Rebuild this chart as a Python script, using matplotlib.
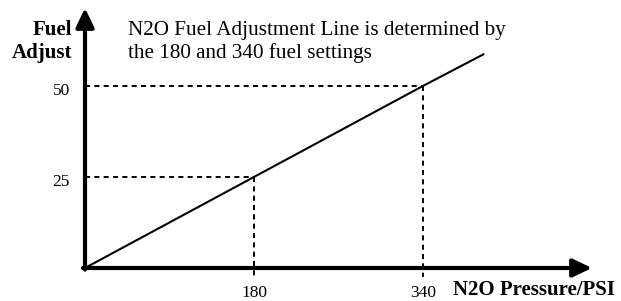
import numpy as np
import matplotlib
matplotlib.use("Agg")
import matplotlib.pyplot as plt
from matplotlib.transforms import ScaledTranslation

# Data
pressure = [0, 180, 340, 398]      # N2O pressure (PSI)
fuel = [0, 25, 50, 58.8]            # fuel adjust
set_pressure = [180, 340]
set_fuel = [25, 50]
x_ticklabels = ["180", "340"]
y_ticklabels = ["25", "50"]
title_lines = ["N2O Fuel Adjustment Line is determined by", "the 180 and 340 fuel settings"]

W, H = 621, 301
fig = plt.figure(figsize=(W / 100, H / 100), dpi=100)
plt.rcParams['font.family'] = ['Liberation Serif', 'DejaVu Serif']

# axes: origin at pixel (85,268), right edge 592, top 8
ax = fig.add_axes([85 / W, (H - 268) / H, (592 - 85) / W, (268 - 8) / H])

# schematic x-axis: 180 and 340 evenly spaced from origin
def fwd(x):
    x = np.asarray(x, dtype=float)
    return np.where(x < 180, x / 180.0, 1 + (x - 180) / 160.0)

def inv(p):
    p = np.asarray(p, dtype=float)
    return np.where(p < 1, p * 180.0, 180 + (p - 1) * 160.0)

ax.set_xscale('function', functions=(fwd, inv))
ax.set_xlim(0, 500)
ax.set_ylim(0, 71.4)
for s in ax.spines.values():
    s.set_visible(False)

ax.plot(pressure, fuel, color='black', lw=1.5, solid_capstyle='butt')
for xp, yf in zip(set_pressure, set_fuel):
    ax.plot([0, xp], [yf, yf], color='black', lw=1.4, linestyle=(0, (2.6, 2.2)))
    ax.plot([xp, xp], [yf, -2.5], color='black', lw=1.4, linestyle=(0, (2.6, 2.2)), clip_on=False)

# arrows
ap = dict(arrowstyle='-|>,head_length=1.15,head_width=0.55', color='black', lw=3,
          shrinkA=0, shrinkB=0, mutation_scale=10)
ax.annotate('', xy=(1, 0), xytext=(-0.004, 0), xycoords='axes fraction', arrowprops=ap, annotation_clip=False)
ax.annotate('', xy=(0, 1), xytext=(0, -0.006), xycoords='axes fraction', arrowprops=ap, annotation_clip=False)

ax.set_xticks(set_pressure)
ax.set_xticklabels(x_ticklabels)
ax.set_yticks(set_fuel)
ax.set_yticklabels(y_ticklabels)
ax.xaxis.set_minor_locator(matplotlib.ticker.NullLocator())
ax.tick_params(axis='both', length=0, labelsize=12.5)
ax.tick_params(axis='x', pad=12)
ax.tick_params(axis='y', pad=11)
shift = ScaledTranslation(0, -2 / 72, fig.dpi_scale_trans)
for lbl in ax.get_yticklabels():
    lbl.set_transform(lbl.get_transform() + shift)

# texts
fig.text(72 / W, (H - 30) / H, "Fuel", ha='right', va='center', fontsize=15, fontweight='bold')
fig.text(72 / W, (H - 53) / H, "Adjust", ha='right', va='center', fontsize=15, fontweight='bold')
fig.text(128 / W, (H - 30) / H, title_lines[0], ha='left', va='center', fontsize=15.2)
fig.text(128 / W, (H - 53) / H, title_lines[1], ha='left', va='center', fontsize=15.2)
fig.text(453 / W, (H - 290) / H, "N2O Pressure/PSI", ha='left', va='center', fontsize=15, fontweight='bold')

fig.savefig("out.png", dpi=100)
